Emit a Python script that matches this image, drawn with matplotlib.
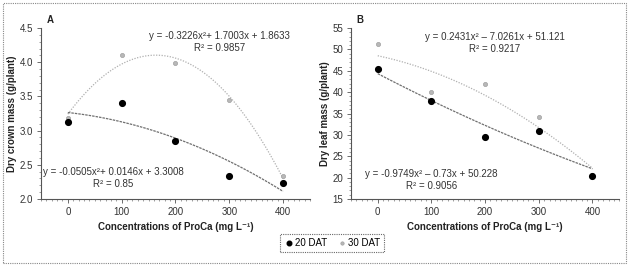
import matplotlib
matplotlib.use("Agg")
import matplotlib.pyplot as plt
import numpy as np
from matplotlib.patches import Rectangle
from matplotlib.ticker import MultipleLocator

plt.rcParams['font.family'] = ['Liberation Sans Narrow', 'Liberation Sans', 'DejaVu Sans']

conc = [0, 100, 200, 300, 400]

crown_20 = [3.13, 3.40, 2.85, 2.33, 2.23]
crown_30 = [3.18, 4.10, 3.99, 3.45, 2.34]
leaf_20 = [45.5, 38.0, 29.5, 31.0, 20.3]
leaf_30 = [51.3, 40.0, 42.0, 34.2, 20.5]

# Excel trendline coefficients (a, b, c) on x index 1..5
crown_20_fit = (-0.0505, 0.0146, 3.3008)
crown_30_fit = (-0.3226, 1.7003, 1.8633)
leaf_20_fit = (0.2431, -7.0261, 51.121)
leaf_30_fit = (-0.9749, -0.73, 50.228)

crown_eq_hi = ["y = -0.3226x\u00b2+ 1.7003x + 1.8633", "R\u00b2 = 0.9857"]
crown_eq_lo = ["y = -0.0505x\u00b2+ 0.0146x + 3.3008", "R\u00b2 = 0.85"]
leaf_eq_hi = ["y = 0.2431x\u00b2 \u2013 7.0261x + 51.121", "R\u00b2 = 0.9217"]
leaf_eq_lo = ["y = -0.9749x\u00b2 \u2013 0.73x + 50.228", "R\u00b2 = 0.9056"]

FS = 7.0

fig = plt.figure(figsize=(6.3, 2.7), dpi=100)
axA = fig.add_axes([0.065, 0.263, 0.427, 0.633])
axB = fig.add_axes([0.557, 0.263, 0.426, 0.633])

def trend(ax, coef, color, ls):
    xs = np.linspace(0, 400, 100)
    xi = xs / 100 + 1
    a, b, c = coef
    ax.plot(xs, a * xi**2 + b * xi + c, color=color, ls=ls, lw=0.9, zorder=1)

def style(ax, ylim, major, minor, ylabel, letter):
    ax.set_xlim(-50, 450)
    ax.set_ylim(*ylim)
    ax.set_xticks(conc)
    ax.yaxis.set_major_locator(MultipleLocator(major))
    ax.yaxis.set_minor_locator(MultipleLocator(minor))
    ax.xaxis.set_minor_locator(MultipleLocator(10))
    for s in ['top', 'right']:
        ax.spines[s].set_visible(False)
    for s in ['left', 'bottom']:
        ax.spines[s].set_color('#555555')
        ax.spines[s].set_linewidth(0.8)
    ax.tick_params(axis='both', which='major', labelsize=FS, colors='#555555',
                   labelcolor='#333333', length=3, width=0.6, pad=2.5)
    ax.tick_params(axis='both', which='minor', length=1.5, width=0.5, colors='#777777')
    ax.set_xlabel("Concentrations of ProCa (mg L\u207b\u00b9)", fontsize=FS,
                  fontweight='bold', color='#222222', labelpad=4)
    ax.set_ylabel(ylabel, fontsize=FS, fontweight='bold', color='#222222', labelpad=2)
    ax.text(0.02, 1.02, letter, transform=ax.transAxes, fontsize=FS,
            fontweight='bold', color='#222222', ha='left', va='bottom')

def panel(ax, y20, y30, f20, f30):
    trend(ax, f30, '#b0b0b0', (0, (1, 1.2)))
    trend(ax, f20, '#707070', (0, (2, 0.8)))
    ax.scatter(conc, y30, s=9, color='#b8b8b8', edgecolors='#a0a0a0',
               linewidths=0.5, zorder=3, label='30 DAT')
    ax.scatter(conc, y20, s=17, color='black', zorder=4, label='20 DAT')

panel(axA, crown_20, crown_30, crown_20_fit, crown_30_fit)
panel(axB, leaf_20, leaf_30, leaf_20_fit, leaf_30_fit)
style(axA, (2.0, 4.5), 0.5, 0.1, "Dry crown mass (g/plant)", "A")
style(axB, (15, 55), 5, 1, "Dry leaf mass (g/plant)", "B")

def eq(ax, lines, x, y):
    ax.text(x, y, lines[0], transform=ax.transAxes, fontsize=FS, color='#333333',
            ha='center', va='center')
    ax.text(x, y - 0.068, lines[1], transform=ax.transAxes, fontsize=FS,
            color='#333333', ha='center', va='center')

eq(axA, crown_eq_hi, 0.665, 0.952)
eq(axA, crown_eq_lo, 0.27, 0.158)
eq(axB, leaf_eq_hi, 0.537, 0.947)
eq(axB, leaf_eq_lo, 0.30, 0.146)

h, l = axA.get_legend_handles_labels()
leg = fig.legend([h[1], h[0]], [l[1], l[0]], loc='center', bbox_to_anchor=(0.527, 0.1),
                 ncol=2, fontsize=FS, frameon=True, fancybox=False,
                 handletextpad=0.1, columnspacing=1.0, borderpad=0.45,
                 handlelength=1.0, edgecolor='#444444', markerscale=0.8)
leg.get_frame().set_linewidth(0.8)
leg.get_frame().set_linestyle((0, (1, 1)))

fig.patches.append(Rectangle((0.005, 0.026), 0.989, 0.963, transform=fig.transFigure,
                             fill=False, edgecolor='#888888', lw=0.8, ls=(0, (1, 1))))

fig.savefig("out.png", dpi=100)
